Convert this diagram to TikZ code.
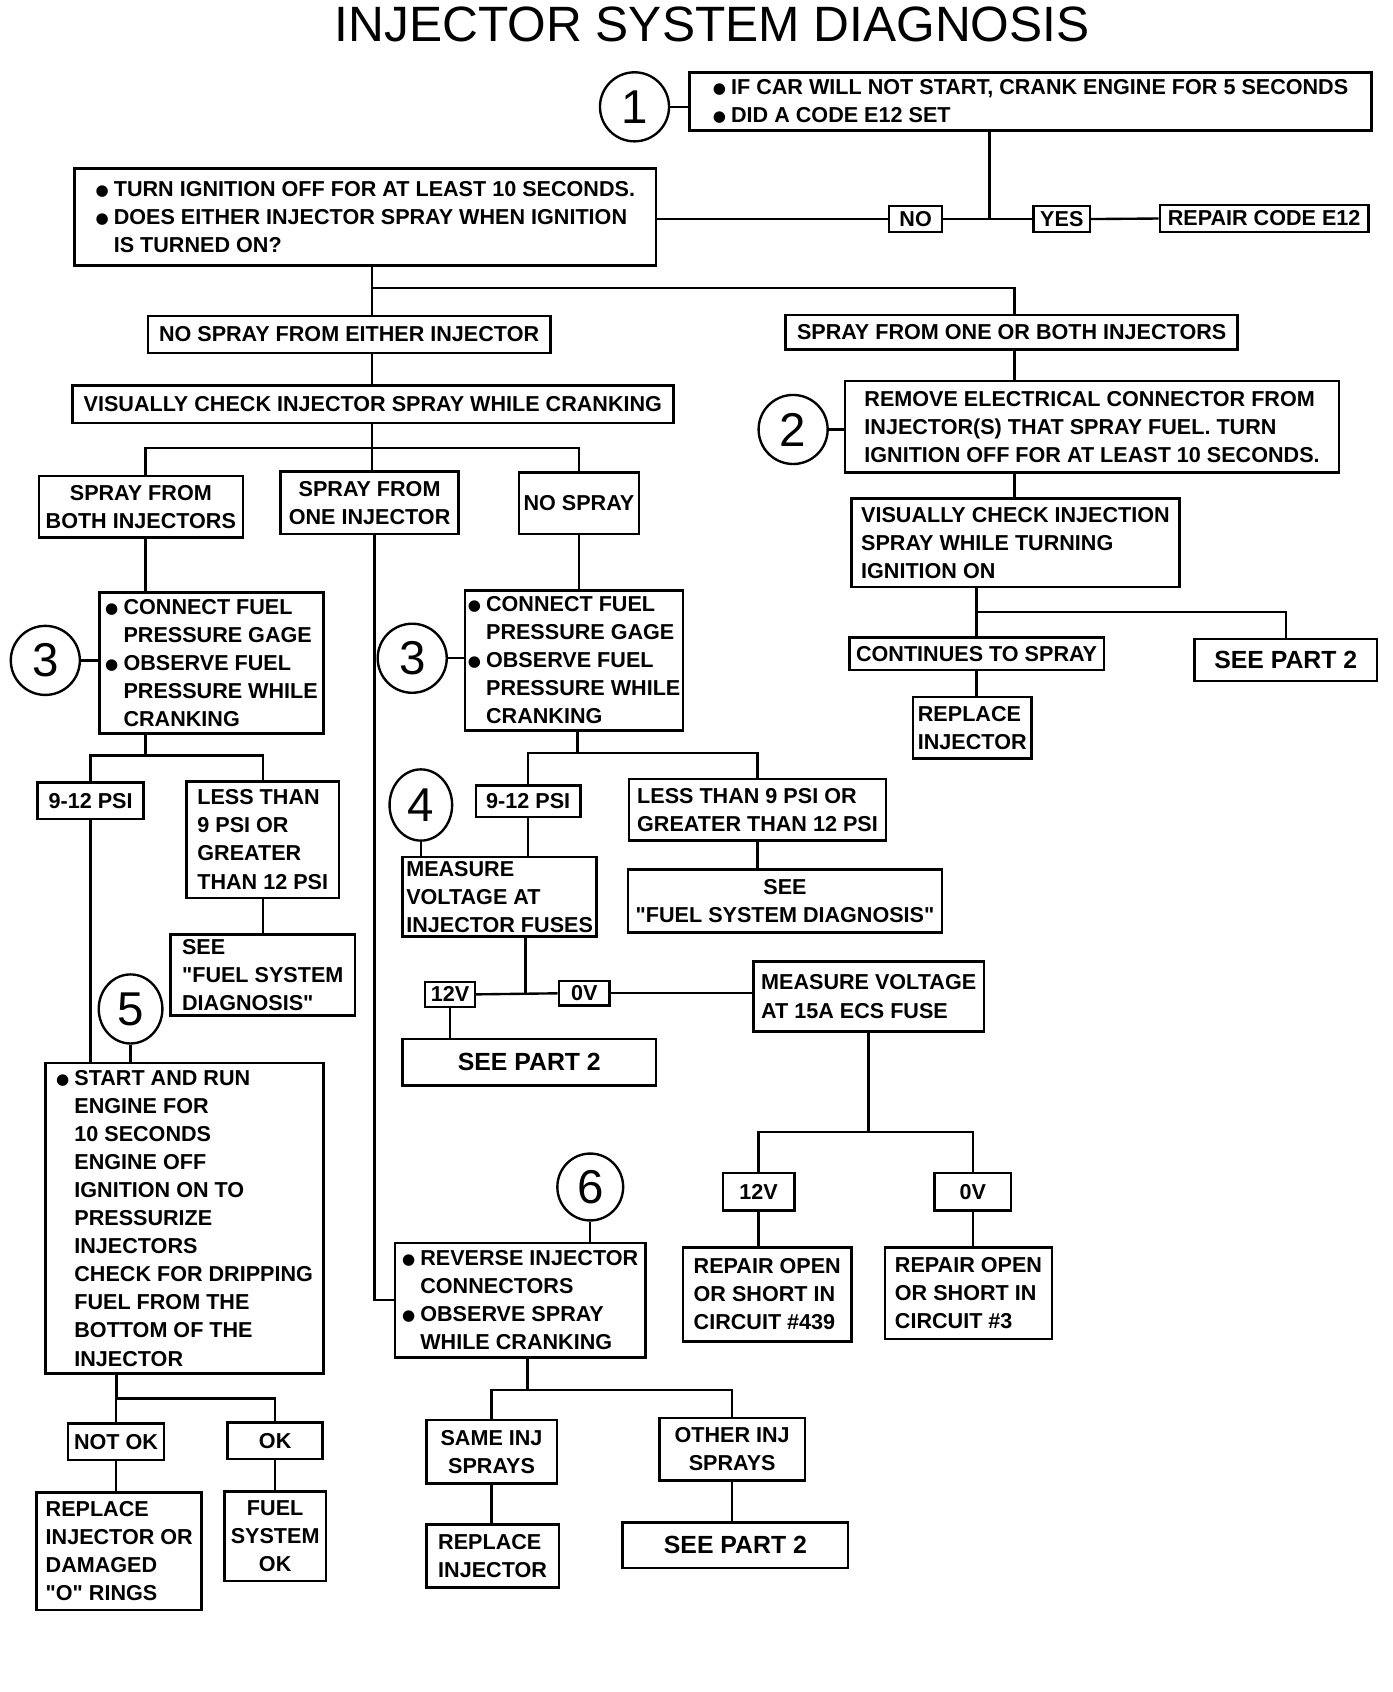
\documentclass[tikz,border=0pt]{standalone}
\usepackage{fontspec}
\setmainfont{Liberation Sans}
\newfontfamily\dvs{DejaVu Sans}
\usetikzlibrary{shapes.geometric}
\newcommand{\lblf}{\fontsize{10}{13}\selectfont\bfseries}
\newcommand{\bigf}{\fontsize{11.5}{14}\selectfont\bfseries}
\newcommand{\numf}{\fontsize{22}{24}\selectfont}
\newcommand{\ttlf}{\fontsize{23}{26}\selectfont}
\newcommand{\bl}{\makebox[0.85em][l]{\raisebox{0.05em}{\dvs\fontsize{7}{7}\selectfont ●}}}
\newcommand{\ind}{\hspace*{0.85em}}
\begin{document}
\begin{tikzpicture}[x=0.5pt,y=-0.5pt,
 bx/.style={draw, line width=1.2pt, inner sep=0pt, font=\lblf, align=center},
 lbx/.style={bx, align=left},
 sbx/.style={bx, font=\bigf},
 bb/.style n args={4}{minimum width={(#3-#1)*0.5pt}, minimum height={(#4-#2)*0.5pt}, at={({(#1+#3)/2},{(#2+#4)/2})}},
 conn/.style={line width=1.1pt},
 num/.style={draw, circle, line width=1.1pt, inner sep=0pt, minimum size=32pt, font=\numf},
 nume/.style={draw, ellipse, line width=1.1pt, inner sep=0pt, font=\numf},
]
\useasboundingbox (0,0) rectangle (1290,1568);
\node[font=\ttlf] (title) at (660,23) {INJECTOR SYSTEM DIAGNOSIS};

% top
\node[num] (c1) at (588,99) {1};
\node[lbx, bb={639}{67}{1271}{121}] (b1) {\bl IF CAR WILL NOT START, CRANK ENGINE FOR 5 SECONDS\\\bl DID A CODE E12 SET};
\node[lbx, bb={69}{156}{608}{246}] (b2) {\bl TURN IGNITION OFF FOR AT LEAST 10 SECONDS.\\\bl DOES EITHER INJECTOR SPRAY WHEN IGNITION\\\ind IS TURNED ON?};
\node[bx, bb={824}{191}{873}{215}] (no1) {NO};
\node[bx, bb={958}{191}{1010}{215}] (yes1) {YES};
\node[bx, bb={1075}{190}{1268}{215}] (rep12) {REPAIR CODE E12};

\node[bx, bb={137}{293}{510}{327}] (nsfe) {NO SPRAY FROM EITHER INJECTOR};
\node[bx, bb={728}{292}{1147}{324}] (sfob) {SPRAY FROM ONE OR BOTH INJECTORS};
\node[bx, bb={67}{357}{624}{392}] (vc) {VISUALLY CHECK INJECTOR SPRAY WHILE CRANKING};

\node[bx, bb={36}{441}{225}{498}] (sfb) {SPRAY FROM\\BOTH INJECTORS};
\node[bx, bb={260}{437}{425}{495}] (sfo) {SPRAY FROM\\ONE INJECTOR};
\node[bx, bb={481}{438}{592}{495}] (nsp) {NO SPRAY};

\node[num] (c3a) at (42,612) {3};
\node[lbx, bb={92}{549}{300}{680}] (b3a) {\bl CONNECT FUEL\\\ind PRESSURE GAGE\\\bl OBSERVE FUEL\\\ind PRESSURE WHILE\\\ind CRANKING};
\node[num] (c3b) at (382,610) {3};
\node[lbx, bb={431}{547}{633}{677}] (b3b) {\bl CONNECT FUEL\\\ind PRESSURE GAGE\\\bl OBSERVE FUEL\\\ind PRESSURE WHILE\\\ind CRANKING};

% left column
\node[bx, bb={35}{725}{133}{759}] (p9a) {9-12 PSI};
\node[lbx, bb={173}{724}{314}{832}] (lta) {LESS THAN\\9 PSI OR\\GREATER\\THAN 12 PSI};
\node[lbx, bb={158}{866}{329}{941}] (sfa) {SEE\\\textquotedbl FUEL SYSTEM\\DIAGNOSIS\textquotedbl};
\node[nume, minimum width=29.5pt, minimum height=32pt] (c5) at (121,935) {5};
\node[lbx, bb={42}{985}{300}{1273}] (b5) {\bl START AND RUN\\\ind ENGINE FOR\\\ind 10 SECONDS\\\ind ENGINE OFF\\\ind IGNITION ON TO\\\ind PRESSURIZE\\\ind INJECTORS\\\ind CHECK FOR DRIPPING\\\ind FUEL FROM THE\\\ind BOTTOM OF THE\\\ind INJECTOR};
\node[bx, bb={63}{1319}{152}{1353}] (notok) {NOT OK};
\node[bx, bb={211}{1318}{299}{1352}] (ok) {OK};
\node[lbx, bb={34}{1383}{187}{1492}] (repo) {REPLACE\\INJECTOR OR\\DAMAGED\\\textquotedbl O\textquotedbl{} RINGS};
\node[bx, bb={208}{1382}{302}{1465}] (fsok) {FUEL\\SYSTEM\\OK};

% middle column
\node[bx, bb={441}{728}{538}{757}] (p9b) {9-12 PSI};
\node[lbx, bb={583}{722}{821}{779}] (ltb) {LESS THAN 9 PSI OR\\GREATER THAN 12 PSI};
\node[nume, minimum width=29pt, minimum height=33pt] (c4) at (390,746) {4};
\node[lbx, bb={373}{794}{553}{868}] (mv) {MEASURE\\VOLTAGE AT\\INJECTOR FUSES};
\node[bx, bb={582}{806}{873}{864}] (sfb2) {SEE\\\textquotedbl FUEL SYSTEM DIAGNOSIS\textquotedbl};
\node[bx, bb={394}{910}{440}{933}] (v12a) {12V};
\node[bx, bb={518}{909}{565}{932}] (v0a) {0V};
\node[sbx, bb={373}{963}{608}{1006}] (sp2a) {SEE PART 2};
\node[lbx, bb={698}{891}{912}{956}] (mv15) {MEASURE VOLTAGE\\AT 15A ECS FUSE};
\node[bx, bb={670}{1087}{736}{1122}] (v12b) {12V};
\node[bx, bb={866}{1087}{937}{1122}] (v0b) {0V};
\node[lbx, bb={633}{1156}{789}{1243}] (r439) {REPAIR OPEN\\OR SHORT IN\\CIRCUIT \#439};
\node[lbx, bb={820}{1156}{975}{1241}] (r3) {REPAIR OPEN\\OR SHORT IN\\CIRCUIT \#3};
\node[nume, minimum width=30.5pt, minimum height=31pt] (c6) at (547,1100) {6};
\node[lbx, bb={366}{1152}{598}{1258}] (b6) {\bl REVERSE INJECTOR\\\ind CONNECTORS\\\bl OBSERVE SPRAY\\\ind WHILE CRANKING};
\node[bx, bb={395}{1316}{516}{1375}] (same) {SAME INJ\\SPRAYS};
\node[bx, bb={611}{1314}{746}{1372}] (other) {OTHER INJ\\SPRAYS};
\node[lbx, bb={395}{1413}{518}{1471}] (repi) {REPLACE\\INJECTOR};
\node[sbx, bb={577}{1411}{786}{1453}] (sp2b) {SEE PART 2};

% right column
\node[num] (c2) at (735,398) {2};
\node[lbx, bb={783}{353}{1241}{438}] (rem) {REMOVE ELECTRICAL CONNECTOR FROM\\INJECTOR(S) THAT SPRAY FUEL. TURN\\IGNITION OFF FOR AT LEAST 10 SECONDS.};
\node[lbx, bb={789}{462}{1093}{544}] (vci) {VISUALLY CHECK INJECTION\\SPRAY WHILE TURNING\\IGNITION ON};
\node[bx, bb={787}{591}{1023}{621}] (cont) {CONTINUES TO SPRAY};
\node[sbx, bb={1107}{592}{1276}{631}] (sp2c) {SEE PART 2};
\node[lbx, bb={846}{646}{956}{703}] (repc) {REPLACE\\INJECTOR};

% junction coordinates
\coordinate (j1) at (917,203);
\coordinate (j2) at (345,267);
\coordinate (j3) at (345,415);
\coordinate (xa) at (135,0);
\coordinate (xb) at (347,0);
\coordinate (j4) at (135,700);
\coordinate (j5) at (108,1296);
\coordinate (j6) at (535,698);
\coordinate (j7) at (487,921);
\coordinate (j8) at (805,1049);
\coordinate (j9) at (489,1288);
\coordinate (j10) at (905,567);
\coordinate (xr) at (940,0);

% connectors
\draw[conn] (c1.east) -- (c1.east -| b1.west);
\draw[conn] (b1.south -| j1) -- (j1);
\draw[conn] (no1.west -| b2.east) -- (no1.west);
\draw[conn] (no1.east) -- (yes1.west);
\draw[conn] (yes1.east) -- (rep12.west);
\draw[conn] (b2.south -| j2) -- (nsfe.north -| j2);
\draw[conn] (j2) -| (sfob.north -| xr);
\draw[conn] (nsfe.south -| j2) -- (vc.north -| j2);
\draw[conn] (vc.south -| j3) -- (sfo.north -| j3);
\draw[conn] (sfb.north -| xa) |- (j3) -| (nsp.north);
\draw[conn] (sfb.south -| xa) -- (b3a.north -| xa);
\draw[conn] (sfo.south -| xb) |- (b6.west);
\draw[conn] (nsp.south) -- (nsp.south |- b3b.north);
\draw[conn] (c3a.east) -- (c3a.east -| b3a.west);
\draw[conn] (c3b.east) -- (c3b.east -| b3b.west);
\draw[conn] (b3a.south -| j4) -- (j4);
\draw[conn] (p9a.north) |- (j4) -| (lta.north);
\draw[conn] (p9a.south) -- (p9a.south |- b5.north);
\draw[conn] (lta.south) -- (sfa.north);
\draw[conn] (c5.south) -- (c5.south |- b5.north);
\draw[conn] (b5.south -| j5) -- (j5);
\draw[conn] (notok.north) |- (j5) -| (ok.north);
\draw[conn] (notok.south) -- (notok.south |- repo.north);
\draw[conn] (ok.south) -- (ok.south |- fsok.north);
\draw[conn] (b3b.south -| j6) -- (j6);
\draw[conn] (p9b.north) |- (j6) -| (ltb.north);
\draw[conn] (c4.south) -- (c4.south |- mv.north);
\draw[conn] (p9b.south) -- (p9b.south |- mv.north);
\draw[conn] (ltb.south) -- (ltb.south |- sfb2.north);
\draw[conn] (mv.south -| j7) -- (j7);
\draw[conn] (v12a.east) -- (v0a.west);
\draw[conn] (v0a.east) -- (v0a.east -| mv15.west);
\draw[conn] (v12a.south) -- (v12a.south |- sp2a.north);
\draw[conn] (mv15.south -| j8) -- (j8);
\draw[conn] (v12b.north) |- (j8) -| (v0b.north);
\draw[conn] (v12b.south) -- (v12b.south |- r439.north);
\draw[conn] (v0b.south) -- (v0b.south |- r3.north);
\draw[conn] (c6.south) -- (c6.south |- b6.north);
\draw[conn] (b6.south -| j9) -- (j9);
\draw[conn] (same.north) |- (j9) -| (other.north);
\draw[conn] (same.south) -- (same.south |- repi.north);
\draw[conn] (other.south) -- (other.south |- sp2b.north);
\draw[conn] (sfob.south -| xr) -- (rem.north -| xr);
\draw[conn] (c2.east) -- (c2.east -| rem.west);
\draw[conn] (rem.south -| xr) -- (vci.north -| xr);
\draw[conn] (vci.south -| j10) -- (j10);
\draw[conn] (cont.north) |- (j10) -| (sp2c.north);
\draw[conn] (cont.south) -- (cont.south |- repc.north);
\end{tikzpicture}
\end{document}
